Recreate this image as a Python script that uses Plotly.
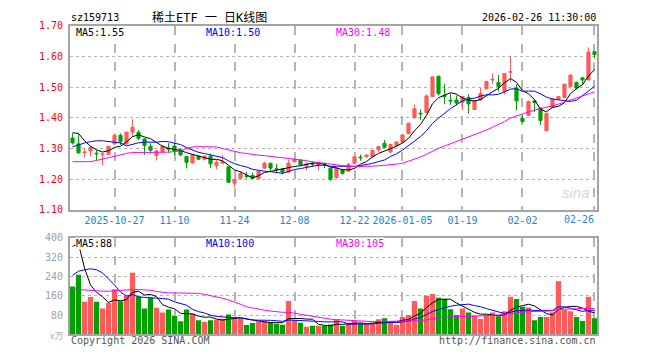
import pandas as pd
import plotly.graph_objects as go

# ---------------- data ----------------
holidays = ["2026-01-01", "2026-01-02", "2026-02-16", "2026-02-17", "2026-02-18",
            "2026-02-19", "2026-02-20", "2026-02-23"]
dates = [d.strftime("%Y-%m-%d") for d in pd.bdate_range("2025-10-16", "2026-02-26")
         if d.strftime("%Y-%m-%d") not in holidays]

open_ = [1.334, 1.315, 1.286, 1.292, 1.285, 1.280, 1.281, 1.315, 1.343, 1.315,
         1.353, 1.353, 1.331, 1.307, 1.277, 1.289, 1.301, 1.308, 1.296, 1.274,
         1.253, 1.274, 1.265, 1.275, 1.244, 1.252, 1.240, 1.187, 1.203, 1.211,
         1.212, 1.202, 1.236, 1.252, 1.234, 1.233, 1.223, 1.257, 1.262, 1.242,
         1.251, 1.244, 1.251, 1.236, 1.205, 1.231, 1.226, 1.252, 1.272, 1.273,
         1.273, 1.296, 1.317, 1.289, 1.309, 1.321, 1.348, 1.400, 1.415, 1.417,
         1.469, 1.535, 1.472, 1.457, 1.458, 1.450, 1.466, 1.427, 1.458, 1.494,
         1.523, 1.515, 1.486, 1.548, 1.497, 1.398, 1.408, 1.455, 1.432, 1.358,
         1.434, 1.460, 1.466, 1.502, 1.515, 1.530, 1.523, 1.615]
close = [1.318, 1.286, 1.288, 1.303, 1.283, 1.282, 1.307, 1.342, 1.323, 1.353,
         1.369, 1.333, 1.310, 1.294, 1.292, 1.307, 1.298, 1.292, 1.279, 1.255,
         1.279, 1.265, 1.275, 1.250, 1.254, 1.257, 1.190, 1.200, 1.219, 1.209,
         1.203, 1.226, 1.252, 1.236, 1.232, 1.223, 1.252, 1.265, 1.247, 1.250,
         1.249, 1.250, 1.249, 1.200, 1.236, 1.219, 1.247, 1.273, 1.270, 1.278,
         1.294, 1.306, 1.304, 1.313, 1.321, 1.344, 1.382, 1.429, 1.413, 1.471,
         1.533, 1.479, 1.470, 1.455, 1.448, 1.469, 1.445, 1.455, 1.479, 1.518,
         1.525, 1.502, 1.544, 1.550, 1.455, 1.388, 1.453, 1.450, 1.391, 1.414,
         1.462, 1.469, 1.509, 1.539, 1.497, 1.523, 1.614, 1.606]
high = [1.349, 1.346, 1.300, 1.307, 1.294, 1.284, 1.309, 1.349, 1.349, 1.354,
        1.395, 1.359, 1.334, 1.317, 1.296, 1.310, 1.318, 1.318, 1.300, 1.276,
        1.282, 1.277, 1.278, 1.283, 1.262, 1.278, 1.240, 1.201, 1.226, 1.223,
        1.221, 1.226, 1.257, 1.253, 1.250, 1.236, 1.262, 1.268, 1.265, 1.254,
        1.257, 1.254, 1.254, 1.238, 1.238, 1.234, 1.254, 1.275, 1.280, 1.282,
        1.296, 1.308, 1.327, 1.315, 1.323, 1.346, 1.384, 1.442, 1.427, 1.476,
        1.535, 1.537, 1.510, 1.479, 1.473, 1.471, 1.476, 1.457, 1.497, 1.520,
        1.544, 1.539, 1.546, 1.601, 1.509, 1.410, 1.455, 1.458, 1.434, 1.416,
        1.464, 1.471, 1.511, 1.541, 1.518, 1.533, 1.629, 1.617]
low = [1.313, 1.282, 1.271, 1.274, 1.261, 1.246, 1.278, 1.313, 1.311, 1.312,
       1.343, 1.327, 1.279, 1.284, 1.261, 1.284, 1.286, 1.279, 1.275, 1.235,
       1.250, 1.262, 1.261, 1.236, 1.233, 1.250, 1.187, 1.174, 1.200, 1.202,
       1.200, 1.200, 1.233, 1.226, 1.223, 1.216, 1.221, 1.254, 1.245, 1.229,
       1.242, 1.229, 1.236, 1.195, 1.203, 1.215, 1.224, 1.250, 1.260, 1.270,
       1.271, 1.289, 1.302, 1.285, 1.307, 1.319, 1.346, 1.398, 1.393, 1.414,
       1.467, 1.473, 1.445, 1.442, 1.440, 1.424, 1.414, 1.425, 1.455, 1.492,
       1.510, 1.486, 1.476, 1.518, 1.424, 1.384, 1.406, 1.419, 1.377, 1.356,
       1.432, 1.458, 1.464, 1.500, 1.492, 1.507, 1.522, 1.593]
volume = [199, 247, 135, 155, 135, 107, 131, 187, 137, 159,
          256, 157, 107, 152, 111, 91, 103, 76, 55, 103,
          87, 59, 52, 59, 61, 65, 83, 65, 65, 39,
          47, 55, 55, 49, 44, 40, 139, 59, 48, 32,
          36, 36, 36, 41, 61, 36, 43, 56, 43, 43,
          43, 63, 67, 51, 40, 72, 80, 139, 107, 160,
          168, 152, 147, 104, 80, 107, 91, 77, 64, 80,
          91, 75, 96, 156, 147, 115, 112, 59, 72, 72,
          92, 220, 101, 96, 72, 56, 156, 67]

# moving-average values before enough history is inside the window
ma5_head = [1.351, 1.349, 1.325, 1.307]
ma10_head = [1.305, 1.312, 1.318, 1.322, 1.325, 1.325, 1.323, 1.320, 1.318]
ma30_head = [1.257, 1.257, 1.257, 1.257, 1.261, 1.265, 1.270, 1.274, 1.279, 1.284,
             1.287, 1.287, 1.287, 1.287, 1.287, 1.287, 1.288, 1.290, 1.292, 1.300,
             1.305, 1.306, 1.306, 1.306, 1.305, 1.300, 1.295, 1.290, 1.286]
vma5_head = [365, 375, 275, 205]
vma10_head = [245, 262, 268, 272, 268, 255, 230, 205, 175]
vma30_head = [188, 186, 183, 180, 179, 179, 179, 181, 184, 185,
              186, 186, 185, 183, 178, 174, 172, 172, 172, 172,
              171, 170, 166, 161, 157, 150, 143, 135, 125]

# legend readouts as printed on the chart
price_ma_labels = ["MA5:1.55", "MA10:1.50", "MA30:1.48"]
vol_ma_labels = ["MA5:88", "MA10:100", "MA30:105"]

tick_dates = ["2025-10-27", "2025-11-10", "2025-11-24", "2025-12-08", "2025-12-22",
              "2026-01-05", "2026-01-19", "2026-02-02", "2026-02-26"]
tick_text = ["2025-10-27", "11-10", "11-24", "12-08", "12-22",
             "2026-01-05", "01-19", "02-02", "02-26"]
price_ticks = [1.10, 1.20, 1.30, 1.40, 1.50, 1.60, 1.70]
vol_ticks = [80, 160, 240, 320, 400]


def moving_avg(vals, n, head):
    out = list(head)
    for i in range(len(head), len(vals)):
        out.append(sum(vals[i - n + 1:i + 1]) / n)
    return out


ma5 = moving_avg(close, 5, ma5_head)
ma10 = moving_avg(close, 10, ma10_head)
ma30 = moving_avg(close, 30, ma30_head)
vma5 = moving_avg(volume, 5, vma5_head)
vma10 = moving_avg(volume, 10, vma10_head)
vma30 = moving_avg(volume, 30, vma30_head)

RED = "#ff5a5a"
GREEN = "#00a000"
MA_COLORS = ["#000000", "#0000ff", "#ff00ff"]
MONO = "DejaVu Sans Mono, Liberation Mono, monospace"
TICK_BLUE = "#1a86cf"

fig = go.Figure()
fig.add_trace(go.Candlestick(
    x=dates, open=open_, high=high, low=low, close=close,
    increasing=dict(line=dict(color=RED, width=1), fillcolor=RED),
    decreasing=dict(line=dict(color=GREEN, width=1), fillcolor=GREEN),
    whiskerwidth=0, xaxis="x", yaxis="y", hoverinfo="skip", showlegend=False))
for vals, col in zip([ma5, ma10, ma30], MA_COLORS):
    fig.add_trace(go.Scatter(x=dates, y=vals, mode="lines", line=dict(color=col, width=1),
                             xaxis="x", yaxis="y", hoverinfo="skip", showlegend=False))

bar_colors = [RED if c >= o else GREEN for o, c in zip(open_, close)]
fig.add_trace(go.Bar(x=dates, y=volume, marker=dict(color=bar_colors, line=dict(width=0)),
                     xaxis="x2", yaxis="y2", hoverinfo="skip", showlegend=False))
for vals, col in zip([vma5, vma10, vma30], MA_COLORS):
    fig.add_trace(go.Scatter(x=dates, y=vals, mode="lines", line=dict(color=col, width=1),
                             xaxis="x2", yaxis="y2", hoverinfo="skip", showlegend=False))

# page body keeps its default 8px margin, so the figure is 16px smaller than the window
OFF = 8
W, H = 660 - 2 * OFF, 360 - 2 * OFF
L, R = 70, 597
PT, PB = 20, 211
VT, VB = 240, 340


def px(x):
    return (x - OFF) / W


def py(y):
    return 1 - (y - OFF) / H


# the last date label is pulled inside the frame (right-aligned), as on the original
axis_text = tick_text[:-1] + [""]

xr = [-0.42, len(dates) - 1 + 0.42]
frame = dict(showline=True, mirror=True, linecolor="#a4a4a4", linewidth=2)
fig.update_layout(
    width=W, height=H, margin=dict(l=0, r=0, t=0, b=0),
    paper_bgcolor="white", plot_bgcolor="white",
    bargap=0.12, boxgap=0.25,
    xaxis=dict(domain=[px(L), px(R)], anchor="y", type="category", range=xr,
               tickmode="array", tickvals=tick_dates, ticktext=axis_text, tickangle=0,
               tickfont=dict(family=MONO, size=10, color=TICK_BLUE),
               ticks="", showgrid=True, gridcolor="#b4b4b4", gridwidth=1.5, griddash="dash",
               rangeslider=dict(visible=False), fixedrange=True, **frame),
    yaxis=dict(domain=[py(PB), py(PT)], anchor="x", range=[1.10, 1.70],
               tickmode="array", tickvals=price_ticks, tickformat=".2f",
               tickfont=dict(family=MONO, size=10, color="#ff0000"), ticks="",
               ticklabelstandoff=3,
               showgrid=True, gridcolor="#b4b4b4", gridwidth=1, griddash="dot",
               zeroline=False, **frame),
    xaxis2=dict(domain=[px(L), px(R)], anchor="y2", type="category", range=xr,
                tickmode="array", tickvals=tick_dates, showticklabels=False, ticks="",
                showgrid=True, gridcolor="#b4b4b4", gridwidth=1.5, griddash="dash",
                matches="x", **frame),
    yaxis2=dict(domain=[py(VB), py(VT)], anchor="x2", range=[0, 400],
                tickmode="array", tickvals=vol_ticks,
                tickfont=dict(family=MONO, size=10, color="#a0a0a0"), ticks="",
                ticklabelstandoff=3,
                showgrid=True, gridcolor="#b4b4b4", gridwidth=1, griddash="dot",
                zeroline=False, **frame),
)


def note(text, x, y, color="#000000", size=10, xanchor="left", family=MONO, bg=None):
    fig.add_annotation(text=text, x=px(x), y=py(y), xref="paper", yref="paper",
                       xanchor=xanchor, yanchor="middle", showarrow=False,
                       bgcolor=bg, borderpad=0,
                       font=dict(family=family, size=size, color=color))


note("sz159713", 70, 12)
note("稀土ETF 一 日K线图", 209, 12, size=12, xanchor="center",
     family="DejaVu Sans Mono, Noto Sans CJK SC")
note("2026-02-26 11:30:00", R, 12, xanchor="right")
for text, x0, col in zip(price_ma_labels, [75, 205, 335], MA_COLORS):
    note(text, x0, 27, col, bg="white")
for text, x0, col in zip(vol_ma_labels, [75, 205, 335], MA_COLORS):
    note(text, x0, 246, col, bg="white")
note(tick_text[-1], 595, 221, TICK_BLUE, xanchor="right")
note("<i>sina</i>", 576, 193, "#d6d6d6", size=15, xanchor="center", family="Liberation Sans")
note("x万", 64, 341, "#b0b0b0", size=9, xanchor="right", family="Noto Sans CJK SC")
note("Copyright 2026 SINA.COM", 70, 346, "#555555")
note("http://finance.sina.com.cn", R, 346, "#555555", xanchor="right")

fig.write_html("out.html", config={"displayModeBar": False})
